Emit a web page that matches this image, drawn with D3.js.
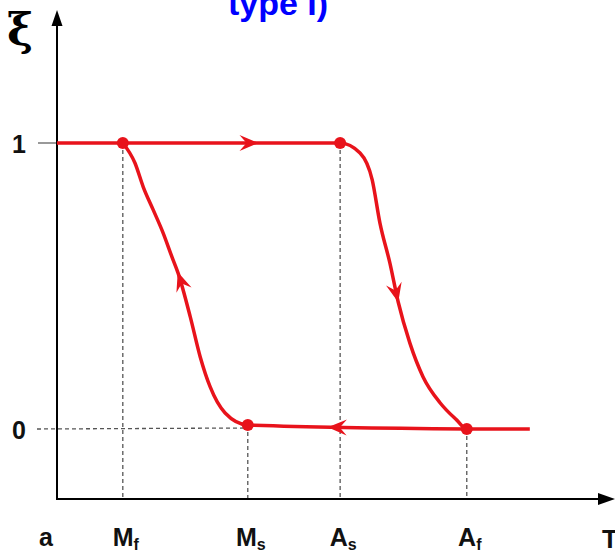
<!DOCTYPE html>
<html>
<head>
    <title>Hysteresis type I</title>
    <script src="https://d3js.org/d3.v7.min.js"></script>
    <style>
        body { margin: 0; background: #fff; }
        svg { display: block; }
        .lbl { font-family: "Liberation Sans", Arial, sans-serif; font-weight: bold; fill: #111; }
    </style>
</head>
<body>
<svg id="chart" width="615" height="552"></svg>
<script>
    // heating branch (xi = 1 -> 0), T in arbitrary units
    var heatT  = [0, 51.2, 54.8, 57.0, 58.4, 60.2, 61.7, 63.8, 66.2, 69.3, 72.3, 74.1, 85.5];
    var heatXi = [1, 1, 0.965, 0.871, 0.720, 0.580, 0.444, 0.301, 0.182, 0.091, 0.031, 0, 0];
    // cooling branch (xi = 0 -> 1)
    var coolT  = [74.1, 34.5, 30.4, 27.7, 25.9, 24.1, 21.9, 20.8, 19.2, 17.4, 15.6, 14.1, 11.9];
    var coolXi = [0, 0.014, 0.056, 0.147, 0.252, 0.392, 0.545, 0.601, 0.685, 0.766, 0.846, 0.930, 1];

    // transformation temperatures
    var tempNames = ["M", "M", "A", "A"];
    var tempSubs  = ["f", "s", "s", "f"];
    var tempT     = [11.9, 34.5, 51.2, 74.1];
    var tempXi    = [1, 0.014, 1, 0];

    // where the direction arrows sit on each branch
    var heatArrows = [[36.4, 1], [61.7, 0.444]];
    var coolArrows = [[49, 0.007], [21.9, 0.55]];

    var yTicks = [0, 1];

    var svg = d3.select("#chart");
    var red = "#e8131b";

    var x = d3.scaleLinear().domain([0, 100]).range([57, 610]);
    var y = d3.scaleLinear().domain([0, 1]).range([429, 143]);
    var x0 = 57, yBase = 499;

    // title (cut off at top in the original)
    svg.append("text")
        .attr("x", 228).attr("y", 15)
        .attr("font-family", "Liberation Sans, Arial, sans-serif")
        .attr("font-weight", "bold")
        .attr("font-size", 34)
        .attr("fill", "#0000ff")
        .text("type I)");

    // guide lines
    svg.append("line")
        .attr("x1", 38).attr("x2", x0)
        .attr("y1", y(1)).attr("y2", y(1))
        .attr("stroke", "#777").attr("stroke-width", 1.5);
    svg.append("line")
        .attr("x1", 37).attr("x2", x(tempT[1]))
        .attr("y1", y(0)).attr("y2", y(tempXi[1]) + 3)
        .attr("stroke", "#555").attr("stroke-width", 1.3)
        .attr("stroke-dasharray", "4,3");

    tempT.forEach(function (t, i) {
        svg.append("line")
            .attr("x1", x(t)).attr("x2", x(t))
            .attr("y1", y(tempXi[i])).attr("y2", yBase)
            .attr("stroke", "#555").attr("stroke-width", 1.3)
            .attr("stroke-dasharray", "4,3");
    });

    // axes with arrow heads
    svg.append("line")
        .attr("x1", x0).attr("x2", x0).attr("y1", 22).attr("y2", yBase)
        .attr("stroke", "#000").attr("stroke-width", 2);
    svg.append("line")
        .attr("x1", x0 - 1).attr("x2", 600).attr("y1", yBase).attr("y2", yBase)
        .attr("stroke", "#000").attr("stroke-width", 2);
    svg.append("path").attr("d", "M57,10 L51.5,26 L62.5,26 Z").attr("fill", "#000");
    svg.append("path").attr("d", "M615,499 L598,493 L598,505 Z").attr("fill", "#000");

    var line = d3.line()
        .x(function (d) { return x(d[0]); })
        .y(function (d) { return y(d[1]); })
        .curve(d3.curveMonotoneX);

    function drawBranch(ts, xis, arrows) {
        var pts = d3.zip(ts, xis);
        var p = svg.append("path")
            .attr("d", line(pts))
            .attr("fill", "none")
            .attr("stroke", red)
            .attr("stroke-width", 3.5)
            .attr("stroke-linejoin", "round");
        var node = p.node();
        var total = node.getTotalLength();
        arrows.forEach(function (a) {
            var tx = x(a[0]), ty = y(a[1]);
            var best = 0, bestD = Infinity;
            for (var l = 0; l <= total; l += 0.5) {
                var q = node.getPointAtLength(l);
                var dd = (q.x - tx) * (q.x - tx) + (q.y - ty) * (q.y - ty);
                if (dd < bestD) { bestD = dd; best = l; }
            }
            var p1 = node.getPointAtLength(Math.max(0, best - 3));
            var p2 = node.getPointAtLength(Math.min(total, best + 3));
            var tip = node.getPointAtLength(best);
            var ang = Math.atan2(p2.y - p1.y, p2.x - p1.x) * 180 / Math.PI;
            svg.append("path")
                .attr("d", "M0,0 L-19,-8 L-12,0 L-19,8 Z")
                .attr("fill", red)
                .attr("transform", "translate(" + tip.x + "," + tip.y + ") rotate(" + ang + ")");
        });
    }

    drawBranch(heatT, heatXi, heatArrows);
    drawBranch(coolT, coolXi, coolArrows);

    // dots
    svg.selectAll("circle.pt")
        .data(d3.zip(tempT, tempXi))
        .enter().append("circle")
        .attr("class", "pt")
        .attr("cx", function (d) { return x(d[0]); })
        .attr("cy", function (d) { return y(d[1]); })
        .attr("r", 6)
        .attr("fill", red);

    // y tick labels
    yTicks.forEach(function (v) {
        svg.append("text")
            .attr("class", "lbl")
            .attr("x", 19).attr("y", y(v) + 10)
            .attr("text-anchor", "middle")
            .attr("font-size", 25)
            .text(v);
    });

    // xi axis label
    svg.append("text")
        .attr("x", 20).attr("y", 45)
        .attr("text-anchor", "middle")
        .attr("font-family", "DejaVu Serif, serif")
        .attr("font-weight", "bold")
        .attr("font-size", 44)
        .attr("fill", "#000")
        .text("\u03be");

    // x tick labels
    tempT.forEach(function (t, i) {
        var tx = svg.append("text")
            .attr("class", "lbl")
            .attr("x", x(t) + 3).attr("y", 546)
            .attr("text-anchor", "middle")
            .attr("font-size", 25);
        tx.append("tspan").text(tempNames[i]);
        tx.append("tspan").attr("font-size", 16).attr("dy", 4).text(tempSubs[i]);
    });
    svg.append("text").attr("class", "lbl")
        .attr("x", 46).attr("y", 546).attr("text-anchor", "middle")
        .attr("font-size", 25).text("a");
    svg.append("text").attr("class", "lbl")
        .attr("x", 602).attr("y", 548)
        .attr("font-weight", "normal")
        .attr("font-size", 26).text("T");
</script>
</body>
</html>
